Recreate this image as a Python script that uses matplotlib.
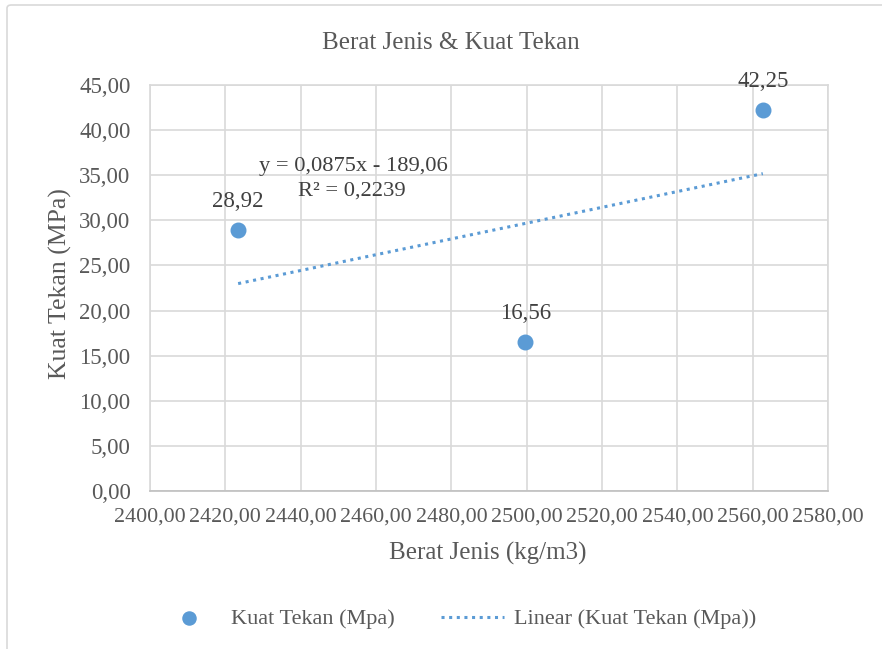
import matplotlib
matplotlib.use("Agg")
import matplotlib.pyplot as plt
from matplotlib.patches import FancyBboxPatch
from matplotlib.ticker import FuncFormatter, MultipleLocator
import numpy as np

plt.rcParams['font.family'] = ['Liberation Serif', 'DejaVu Serif']

# Data
berat_jenis = [2423.4, 2499.6, 2562.7]
kuat_tekan = [28.92, 16.56, 42.25]
trend_slope = 0.0875
trend_intercept = -189.06
r_squared = 0.2239

TEXT = '#595959'
GRID = '#d9d9d9'
BLUE = '#5b9bd5'

fig = plt.figure(figsize=(8.82, 6.49), dpi=100)
W, H = 882, 649

# Chart border
border = FancyBboxPatch((7 / W, -0.05), 1.0, 1.0 - 5 / H + 0.05,
                        boxstyle="round,pad=0,rounding_size=0.005",
                        transform=fig.transFigure, fill=False,
                        edgecolor='#d9d9d9', linewidth=1.2)
fig.patches.append(border)

left, right, top, bottom = 150, 828, 85, 491
ax = fig.add_axes([left / W, 1 - bottom / H, (right - left) / W, (bottom - top) / H])

ax.set_xlim(2400, 2580)
ax.set_ylim(0, 45)
ax.xaxis.set_major_locator(MultipleLocator(20))
ax.yaxis.set_major_locator(MultipleLocator(5))
fmt = FuncFormatter(lambda v, p: f"{v:.2f}".replace('.', ','))
ax.xaxis.set_major_formatter(fmt)
ax.yaxis.set_major_formatter(fmt)

ax.grid(True, color=GRID, linewidth=1.2)
ax.set_axisbelow(True)
for s in ['top', 'right', 'left']:
    ax.spines[s].set_color(GRID)
    ax.spines[s].set_linewidth(1.2)
ax.spines['bottom'].set_color('#bfbfbf')
ax.spines['bottom'].set_linewidth(1.2)
ax.tick_params(axis='y', length=0, labelsize=16.5, colors=TEXT, pad=14)
ax.tick_params(axis='x', length=0, labelsize=15.8, colors=TEXT, pad=12)

# Trendline
xt = np.array([min(berat_jenis), max(berat_jenis)])
yt = trend_slope * xt + trend_intercept
ax.plot(xt, yt, linestyle=(0, (1, 1.5)), color=BLUE, linewidth=2.2,
        label='Linear (Kuat Tekan (Mpa))', zorder=3)

# Points
ax.scatter(berat_jenis, kuat_tekan, s=110, color=BLUE, zorder=4,
           label='Kuat Tekan (Mpa)', clip_on=False)
for x, y in zip(berat_jenis, kuat_tekan):
    ax.annotate(f"{y:.2f}".replace('.', ','), (x, y), xytext=(0, 13),
                textcoords='offset points', ha='center', va='bottom',
                fontsize=16.5, color='#404040', annotation_clip=False)

eq = f"y = {trend_slope:.4f}x - {abs(trend_intercept):.2f}".replace('.', ',')
r2 = f"R² = {r_squared:.4f}".replace('.', ',')
fig.text(353 / W, 1 - 166 / H, eq, ha='center', va='center', fontsize=16.2, color='#404040')
fig.text(352 / W, 1 - 191 / H, r2, ha='center', va='center', fontsize=16.2, color='#404040')

fig.text(451 / W, 1 - 43 / H, 'Berat Jenis & Kuat Tekan', ha='center', va='center',
         fontsize=18, color=TEXT)
fig.text(488 / W, 1 - 553 / H, 'Berat Jenis (kg/m3)', ha='center', va='center',
         fontsize=18, color=TEXT)
fig.text(60 / W, 1 - 284 / H, 'Kuat Tekan (MPa)', ha='center', va='center',
         fontsize=18.5, color=TEXT, rotation=90)

handles, labels = ax.get_legend_handles_labels()
leg = fig.legend([handles[1], handles[0]], [labels[1], labels[0]],
                 loc='center', bbox_to_anchor=(457 / W, 1 - 619 / H), ncol=2,
                 frameon=False, fontsize=16, labelcolor=TEXT,
                 handlelength=2.84, columnspacing=2.07, handletextpad=0.45,
                 markerscale=0.9, borderpad=0, borderaxespad=0)

fig.savefig('out.png', dpi=100, facecolor='white')
